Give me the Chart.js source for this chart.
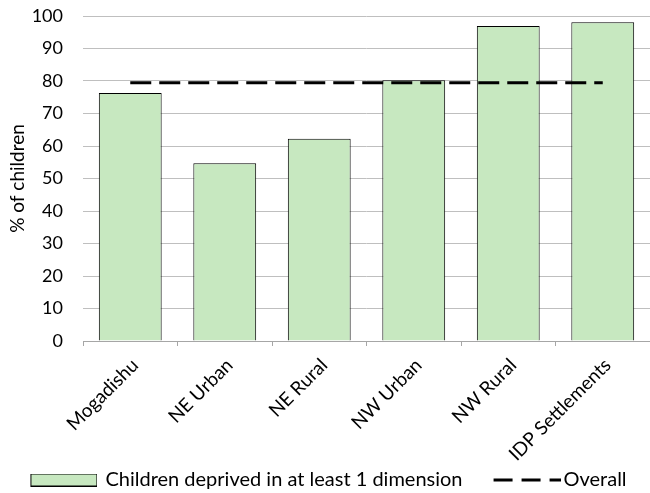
<!DOCTYPE html>
<html>
<head>
<meta charset="utf-8">
<script src="https://cdn.jsdelivr.net/npm/chart.js@4.4.1/dist/chart.umd.min.js"></script>
<style>
  html, body { margin: 0; padding: 0; background: #fff; }
  #wrap { width: 650px; height: 493px; position: relative; }
</style>
</head>
<body>
<div id="wrap"><canvas id="myChart"></canvas></div>
<script>
// data
const categories = ['Mogadishu', 'NE Urban', 'NE Rural', 'NW Urban', 'NW Rural', 'IDP Settlements'];
const deprived = [76.3, 54.7, 62.2, 80.2, 96.9, 98.1];
const overall = [79.5, 79.5, 79.5, 79.5, 79.5, 79.5];
const yTicks = [0, 10, 20, 30, 40, 50, 60, 70, 80, 90, 100];

const barFill = '#C7E8C0';
const fontName = 'Lato';

// legend swatches: canvases wider than the slot so the marks sit where the reference has them
function makeBoxSwatch() {
    const c = document.createElement('canvas');
    c.width = 76; c.height = 13;
    const g = c.getContext('2d');
    g.fillStyle = barFill;
    g.fillRect(9, 0, 67, 13);
    g.strokeStyle = '#000';
    g.lineWidth = 1;
    g.strokeRect(9.5, 0.5, 66, 12);
    return c;
}
function makeDashSwatch() {
    const c = document.createElement('canvas');
    c.width = 86; c.height = 4;
    const g = c.getContext('2d');
    g.strokeStyle = '#000';
    g.lineWidth = 3;
    g.setLineDash([19, 9]);
    g.beginPath();
    g.moveTo(19, 2); g.lineTo(86, 2);
    g.stroke();
    return c;
}
const boxSwatch = makeBoxSwatch();
const dashSwatch = makeDashSwatch();

const mct = document.getElementById('myChart');

const data = {
    labels: categories,
    datasets: [{
        type: 'bar',
        label: 'Children deprived in at least 1 dimension',
        data: deprived,
        backgroundColor: barFill,
        borderColor: '#000',
        borderWidth: 1,
        barPercentage: 0.665,
        categoryPercentage: 1,
        order: 2
    }, {
        type: 'line',
        label: 'Overall',
        data: overall,
        borderColor: '#000',
        borderWidth: 3,
        borderDash: [21, 8],
        pointRadius: 0,
        fill: false,
        order: 1
    }]
};

const config = {
    type: 'bar',
    data: data,
    options: {
        responsive: true,
        maintainAspectRatio: false,
        animation: false,
        layout: { padding: { top: 16, right: 0, bottom: -7, left: 0 } },
        plugins: {
            tooltip: { enabled: false },
            legend: {
                position: 'bottom',
                labels: {
                    usePointStyle: true,
                    pointStyleWidth: 72,
                    boxHeight: 13,
                    padding: 19,
                    color: '#000',
                    font: { family: fontName, size: 20 },
                    generateLabels: (chart) => chart.data.datasets.map((ds, i) => ({
                        text: ds.label,
                        pointStyle: i == 0 ? boxSwatch : dashSwatch,
                        fillStyle: i == 0 ? barFill : '#000',
                        strokeStyle: '#000',
                        lineWidth: 0,
                        datasetIndex: i,
                        hidden: false
                    }))
                }
            }
        },
        scales: {
            x: {
                grid: {
                    offset: true,
                    drawOnChartArea: false,
                    drawTicks: true,
                    tickLength: 5,
                    color: '#A6A6A6'
                },
                border: { display: true, color: '#A6A6A6', width: 1 },
                ticks: {
                    color: '#000',
                    font: { family: fontName, size: 19 },
                    minRotation: 45,
                    maxRotation: 45,
                    padding: 8,
                    labelOffset: 5
                },
                afterFit: (scale) => { scale.height = 110; },
                // let the long rotated label run past the axis box, like the reference
                afterUpdate: (scale) => { scale._computeLabelArea = () => undefined; }
            },
            y: {
                min: 0,
                max: 100,
                afterBuildTicks: (scale) => { scale.ticks = yTicks.map(v => ({ value: v })); },
                grid: { color: '#BFBFBF', drawTicks: true, tickLength: 20, tickColor: 'rgba(0,0,0,0)' },
                border: { display: false },
                ticks: {
                    color: '#000',
                    padding: 0,
                    font: { family: fontName, size: 18 }
                },
                title: {
                    display: true,
                    text: '% of children',
                    color: '#000',
                    font: { family: fontName, size: 19 },
                    padding: { top: 6, bottom: 0 }
                },
                afterFit: (scale) => { scale.width = 83; }
            }
        }
    }
};

const myChart = new Chart(mct, config);
</script>
</body>
</html>
